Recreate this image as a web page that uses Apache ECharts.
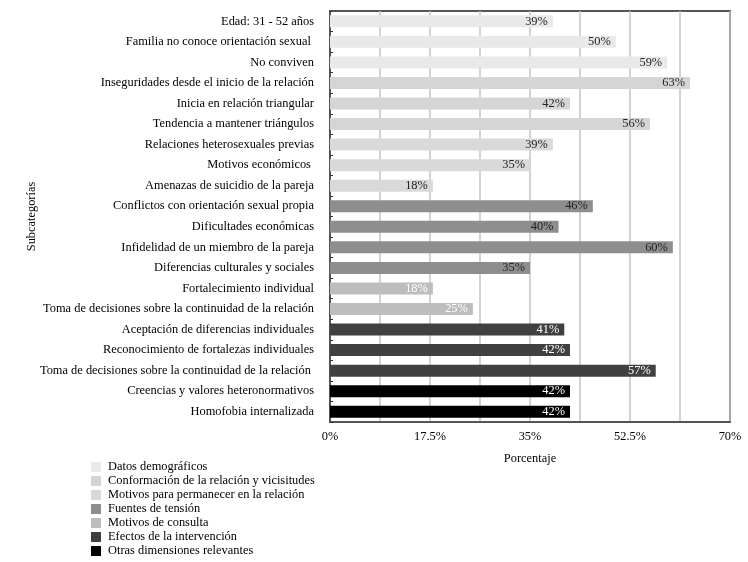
<!DOCTYPE html>
<html>
<head>
<meta charset="utf-8">
<script src="https://cdn.jsdelivr.net/npm/echarts@6/dist/echarts.min.js"></script>
<style>html,body{margin:0;padding:0;background:#fff;}#c{width:748px;height:562px;}</style>
</head>
<body>
<div id="c"></div>
<script>
const categories = [
  "Edad: 31 - 52 años",
  "Familia no conoce orientación sexual ",
  "No conviven",
  "Inseguridades desde el inicio de la relación",
  "Inicia en relación triangular",
  "Tendencia a mantener triángulos",
  "Relaciones heterosexuales previas",
  "Motivos económicos ",
  "Amenazas de suicidio de la pareja",
  "Conflictos con orientación sexual propia",
  "Dificultades económicas",
  "Infidelidad de un miembro de la pareja",
  "Diferencias culturales y sociales",
  "Fortalecimiento individual",
  "Toma de decisiones sobre la continuidad de la relación",
  "Aceptación de diferencias individuales",
  "Reconocimiento de fortalezas individuales",
  "Toma de decisiones sobre la continuidad de la relación ",
  "Creencias y valores heteronormativos",
  "Homofobia internalizada"
];
const values = [39, 50, 59, 63, 42, 56, 39, 35, 18, 46, 40, 60, 35, 18, 25, 41, 42, 57, 42, 42];
const groupOf = [0, 0, 0, 1, 1, 1, 2, 2, 2, 3, 3, 3, 3, 4, 4, 5, 5, 5, 6, 6];
const groups = [
  "Datos demográficos",
  "Conformación de la relación y vicisitudes",
  "Motivos para permanecer en la relación",
  "Fuentes de tensión",
  "Motivos de consulta",
  "Efectos de la intervención",
  "Otras dimensiones relevantes"
];
const groupColors = ["#e9e9e9", "#d5d5d5", "#d9d9d9", "#8e8e8e", "#bdbdbd", "#404040", "#000000"];
const labelColors = ["#222", "#222", "#222", "#222", "#ffffff", "#ffffff", "#ffffff"];
const xTicks = [0, 17.5, 35, 52.5, 70];

const font = "Liberation Serif";
const fs = 12.4;
const series = groups.map((g, gi) => ({
  name: g,
  type: "bar",
  stack: "all",
  barWidth: 12,
  itemStyle: { color: groupColors[gi] },
  label: {
    show: true,
    position: "insideRight",
    formatter: "{c}%",
    color: labelColors[gi],
    fontFamily: font,
    fontSize: fs,
    distance: 5
  },
  data: values.map((v, i) => (groupOf[i] === gi ? v : "-"))
}));

const chart = echarts.init(document.getElementById("c"));
chart.setOption({
  animation: false,
  textStyle: { fontFamily: font },
  grid: { left: 330, right: 18, top: 11, bottom: 140, show: true, borderColor: "#555", borderWidth: 2, backgroundColor: "transparent" },
  legend: {
    orient: "vertical",
    left: 86,
    top: 456,
    height: 110,
    itemWidth: 10,
    itemHeight: 10,
    itemGap: 2,
    icon: "rect",
    textStyle: { fontFamily: font, fontSize: fs, color: "#000", lineHeight: 12, padding: [0, 0, 0, 2] },
    data: groups
  },
  xAxis: {
    type: "value",
    min: 0,
    max: 70,
    interval: 8.75,
    name: "Porcentaje",
    nameLocation: "middle",
    nameGap: 31,
    nameTextStyle: { fontFamily: font, fontSize: fs, color: "#000" },
    axisLine: { show: true, lineStyle: { color: "#555", width: 2 } },
    axisTick: { show: false },
    axisLabel: {
      fontFamily: font, fontSize: fs, color: "#000", margin: 9,
      formatter: v => (xTicks.some(t => Math.abs(t - v) < 1e-6) ? v + "%" : "")
    },
    splitLine: { show: true, lineStyle: { color: "#c4c4c4", width: 1.5 } }
  },
  yAxis: {
    type: "category",
    inverse: true,
    data: categories,
    name: "Subcategorías",
    nameLocation: "middle",
    nameGap: 292,
    nameMoveOverlap: false,
    nameRotate: 90,
    nameTextStyle: { fontFamily: font, fontSize: fs, color: "#000" },
    axisLine: { show: true, lineStyle: { color: "#555", width: 2 } },
    axisTick: { show: true, inside: true, length: 3, lineStyle: { color: "#333" } },
    axisLabel: { fontFamily: font, fontSize: fs, color: "#000", margin: 16 },
    splitLine: { show: false }
  },
  series: series
});
</script>
</body>
</html>
